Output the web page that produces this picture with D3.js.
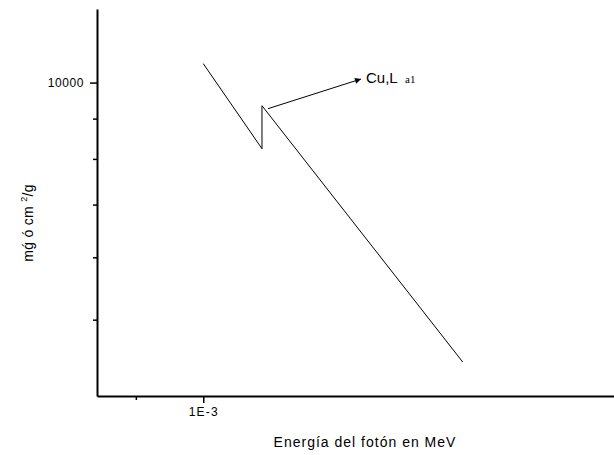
<!DOCTYPE html>
<html>
<head>
<meta charset="utf-8">
<script src="https://cdn.jsdelivr.net/npm/d3@7"></script>
<style>
  body { margin: 0; background: #fff; }
  text { font-family: "Liberation Sans", Arial, sans-serif; fill: #000; }
</style>
</head>
<body>
<div id="chart"></div>
<script>
// Cu mass attenuation around the L1 edge (log-log)
const energy = [1.0e-3, 1.0961e-3, 1.0961e-3, 1.5e-3];
const attenuation = [10570, 8242, 9347, 4418];

const xMajor = [1e-3];
const xMajorLabels = ["1E-3"];
const xMinor = [9e-4];
const yMajor = [10000];
const yMajorLabels = ["10000"];
const yMinor = [5000, 6000, 7000, 8000, 9000];

const width = 614, height = 455;
const margin = { top: 9, right: 0, bottom: 59, left: 97 };

const svg = d3.select("#chart").append("svg")
    .attr("width", width)
    .attr("height", height);

const x = d3.scaleLog()
    .domain([8.47e-4, 1.9e-3])
    .range([margin.left, width - margin.right]);

const y = d3.scaleLog()
    .domain([4000, 12400])
    .range([height - margin.bottom, margin.top]);

const xAxisY = height - margin.bottom;

// x axis
svg.append("g")
    .attr("transform", "translate(0," + xAxisY + ")")
    .call(d3.axisBottom(x).tickValues(xMajor).tickFormat((d, i) => xMajorLabels[i])
        .tickSizeInner(7).tickSizeOuter(0).tickPadding(4))
    .call(g => g.select(".domain").attr("stroke-width", 2))
    .call(g => g.selectAll(".tick line").attr("stroke-width", 1.5))
    .call(g => g.selectAll(".tick text").attr("font-size", 12)
        .attr("letter-spacing", 1.2)
        .attr("font-family", "Liberation Sans, Arial, sans-serif"));

svg.append("g")
    .attr("transform", "translate(0," + xAxisY + ")")
    .call(d3.axisBottom(x).tickValues(xMinor).tickFormat("").tickSizeInner(4).tickSizeOuter(0))
    .call(g => g.select(".domain").remove())
    .call(g => g.selectAll(".tick line").attr("stroke-width", 1.5));

// y axis
svg.append("g")
    .attr("transform", "translate(" + margin.left + ",0)")
    .call(d3.axisLeft(y).tickValues(yMajor).tickFormat((d, i) => yMajorLabels[i])
        .tickSizeInner(7).tickSizeOuter(0).tickPadding(6))
    .call(g => g.select(".domain").attr("stroke-width", 2))
    .call(g => g.selectAll(".tick line").attr("stroke-width", 1.5))
    .call(g => g.selectAll(".tick text").attr("font-size", 12)
        .attr("letter-spacing", 0.6)
        .attr("font-family", "Liberation Sans, Arial, sans-serif"));

svg.append("g")
    .attr("transform", "translate(" + margin.left + ",0)")
    .call(d3.axisLeft(y).tickValues(yMinor).tickFormat("").tickSizeInner(4).tickSizeOuter(0))
    .call(g => g.select(".domain").remove())
    .call(g => g.selectAll(".tick line").attr("stroke-width", 1.5));

// data line
const line = d3.line()
    .x((d, i) => x(energy[i]))
    .y((d, i) => y(attenuation[i]));

svg.append("path")
    .datum(energy)
    .attr("fill", "none")
    .attr("stroke", "#000")
    .attr("stroke-width", 1)
    .attr("d", line);

// annotation arrow
svg.append("defs").append("marker")
    .attr("id", "arrow")
    .attr("viewBox", "0 0 10 10")
    .attr("refX", 10).attr("refY", 5)
    .attr("markerWidth", 9).attr("markerHeight", 6)
    .attr("markerUnits", "userSpaceOnUse")
    .attr("orient", "auto")
    .append("path")
    .attr("d", "M0,0L10,5L0,10Z")
    .attr("fill", "#000");

svg.append("line")
    .attr("x1", x(energy[2]) + 6).attr("y1", y(attenuation[2]) + 3)
    .attr("x2", 361).attr("y2", 79)
    .attr("stroke", "#000")
    .attr("stroke-width", 1)
    .attr("marker-end", "url(#arrow)");

svg.append("text")
    .attr("x", 366).attr("y", 83)
    .attr("font-size", 15)
    .text("Cu,L");

svg.append("text")
    .attr("x", 405).attr("y", 83)
    .attr("font-size", 11)
    .style("font-family", "Liberation Serif, Times New Roman, serif")
    .text("a1");

// axis titles
svg.append("text")
    .attr("x", 365).attr("y", 447)
    .attr("text-anchor", "middle")
    .attr("font-size", 14)
    .attr("letter-spacing", 1)
    .text("Energía del fotón en MeV");

const yTitle = svg.append("text")
    .attr("transform", "translate(33,223) rotate(-90)")
    .attr("text-anchor", "middle")
    .attr("font-size", 14)
    .attr("letter-spacing", 0.3);
yTitle.append("tspan").text("mǵ ó cm ");
yTitle.append("tspan").attr("font-size", 9).attr("dy", -6).text("2");
yTitle.append("tspan").attr("dy", 6).text("/g");
</script>
</body>
</html>
